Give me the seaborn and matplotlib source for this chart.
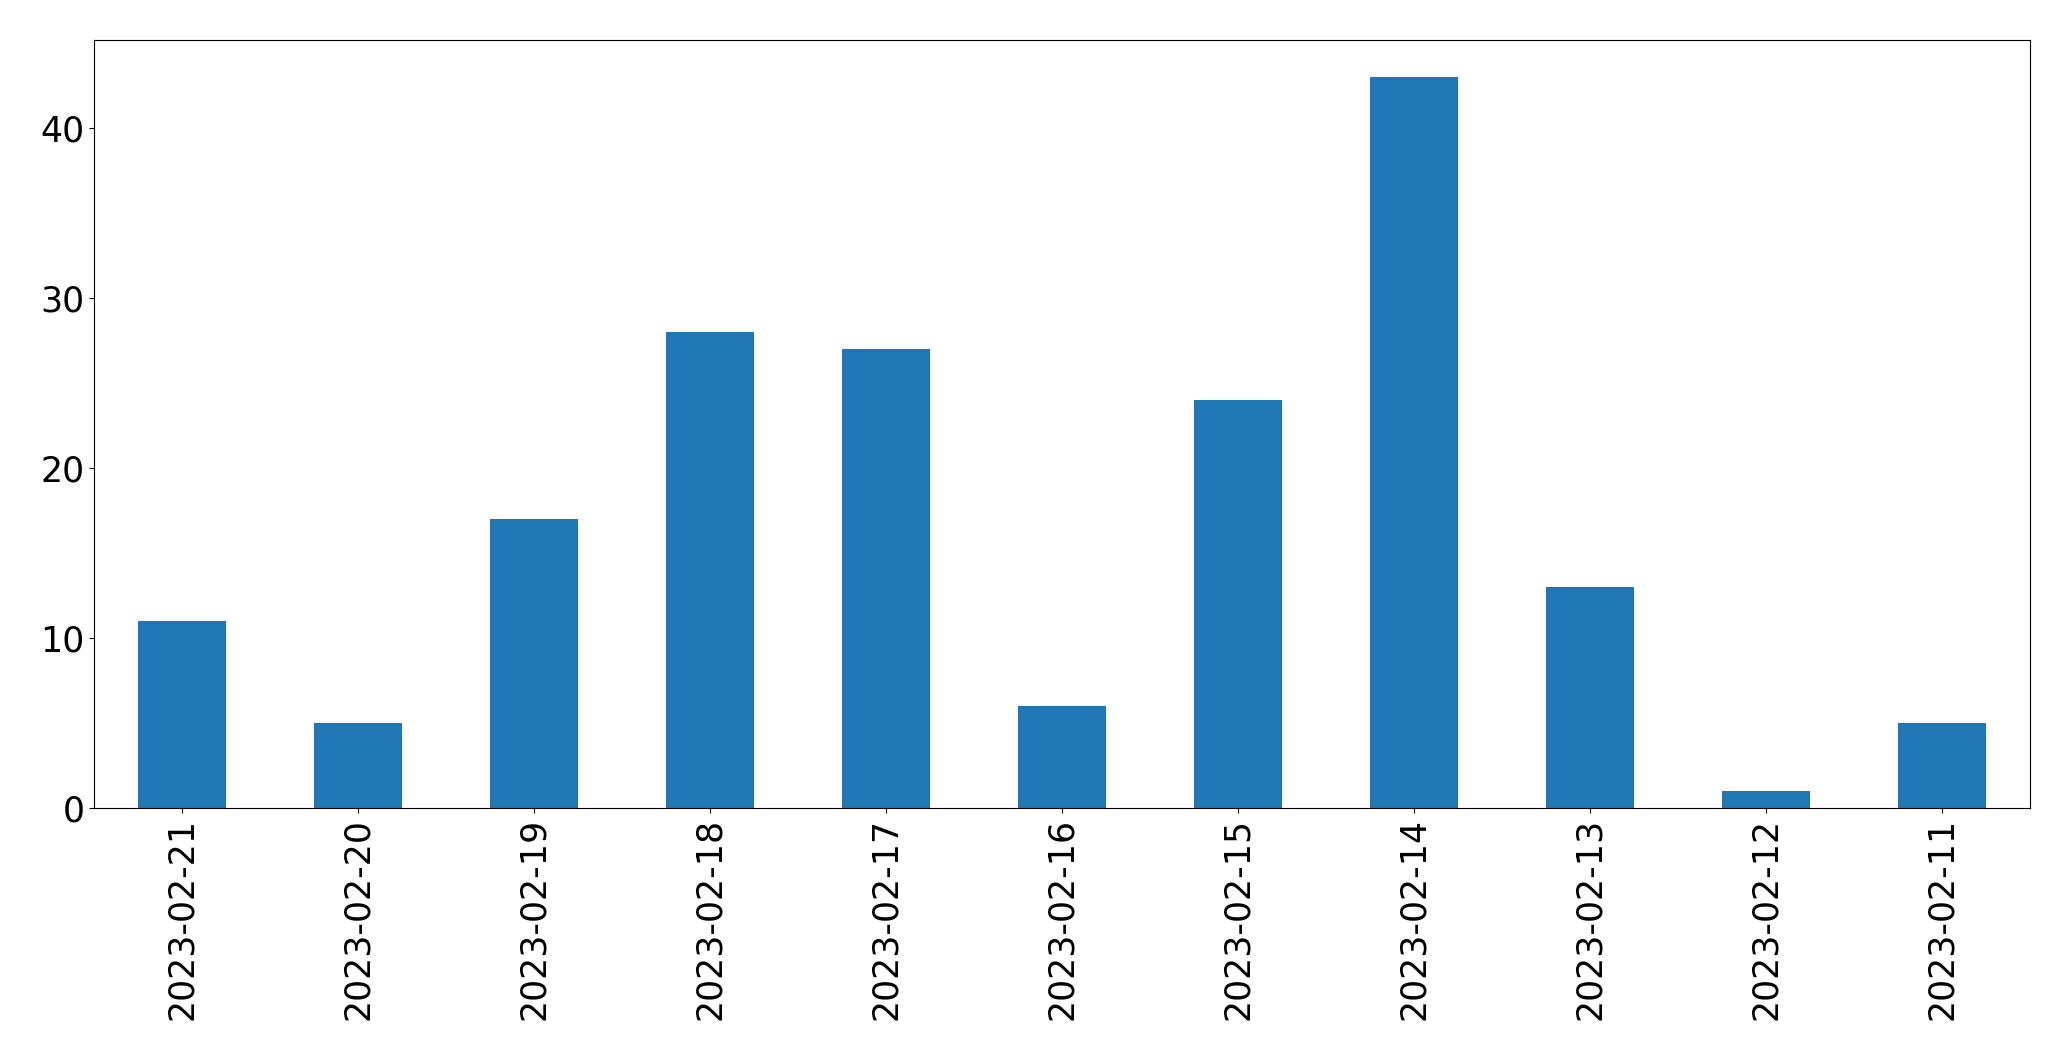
import matplotlib
matplotlib.use("Agg")
import matplotlib.pyplot as plt
import seaborn as sns
import pandas as pd

dates = ['2023-02-21', '2023-02-20', '2023-02-19', '2023-02-18', '2023-02-17',
         '2023-02-16', '2023-02-15', '2023-02-14', '2023-02-13', '2023-02-12',
         '2023-02-11']
counts = [11, 5, 17, 28, 27, 6, 24, 43, 13, 1, 5]

df = pd.DataFrame({'date': dates, 'count': counts})

fig = plt.figure(figsize=(20.71, 10.61), dpi=100)
ax = fig.add_axes([0.0454, 0.2385, 0.9346, 0.7235])
sns.barplot(data=df, x='date', y='count', color='#1f77b4', saturation=1,
            width=0.5, ax=ax)

ax.set_xlim(-0.5, len(dates) - 0.5)
ax.set_ylim(0, max(counts) * 1.05)
ax.set_xlabel('')
ax.set_ylabel('')
ax.tick_params(axis='both', labelsize=25)
ax.tick_params(axis='x', labelrotation=90)

fig.savefig('out.png', dpi=100)
